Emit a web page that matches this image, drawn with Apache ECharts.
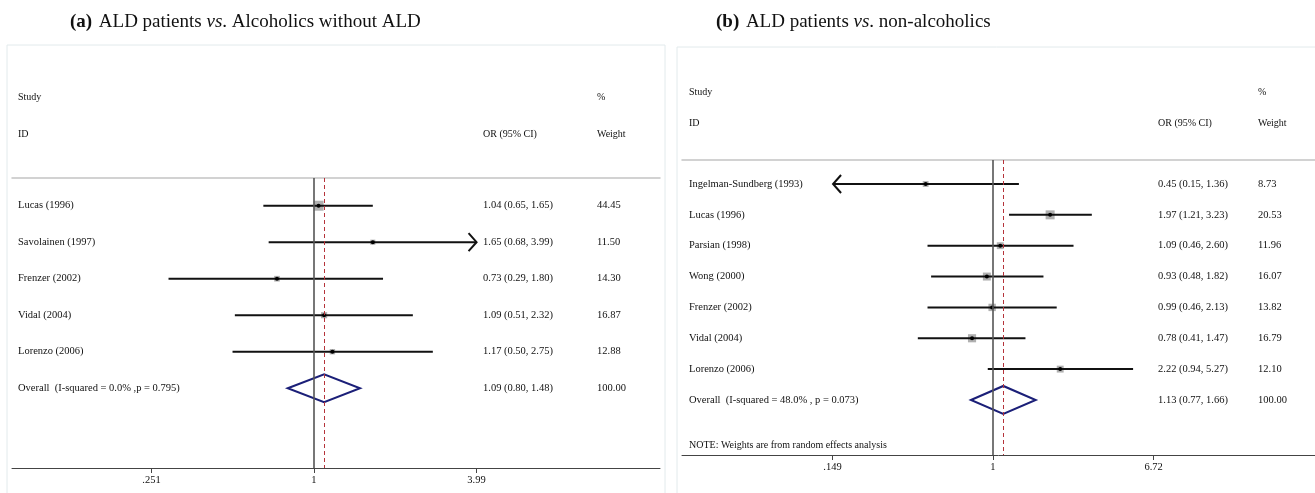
<!DOCTYPE html>
<html><head><meta charset="utf-8">
<script src="https://cdn.jsdelivr.net/npm/echarts@6/dist/echarts.min.js"></script>
<style>html,body{margin:0;padding:0;background:#fff}#c{width:1315px;height:493px}</style>
</head><body><div id="c"></div>
<script>
// ---------- Panel (a): ALD patients vs. Alcoholics without ALD ----------
const studiesA = ['Lucas (1996)', 'Savolainen (1997)', 'Frenzer (2002)', 'Vidal (2004)', 'Lorenzo (2006)'];
const orA = [1.04, 1.65, 0.73, 1.09, 1.17];
const loA = [0.65, 0.68, 0.29, 0.51, 0.50];
const hiA = [1.65, 3.99, 1.80, 2.32, 2.75];
const weightA = [44.45, 11.50, 14.30, 16.87, 12.88];
const arrowA = [0, 1, 0, 0, 0];            // 1 = CI runs off the right, -1 = off the left
const overallLabelA = 'Overall  (I-squared = 0.0% ,p = 0.795)';
const overallA = [1.09, 0.80, 1.48];       // OR, lower, upper
const overallWeightA = 100.00;
const tickValuesA = [0.251, 1, 3.99];
const tickLabelsA = ['.251', '1', '3.99'];

// ---------- Panel (b): ALD patients vs. non-alcoholics ----------
const studiesB = ['Ingelman-Sundberg (1993)', 'Lucas (1996)', 'Parsian (1998)', 'Wong (2000)', 'Frenzer (2002)', 'Vidal (2004)', 'Lorenzo (2006)'];
const orB = [0.45, 1.97, 1.09, 0.93, 0.99, 0.78, 2.22];
const loB = [0.15, 1.21, 0.46, 0.48, 0.46, 0.41, 0.94];
const hiB = [1.36, 3.23, 2.60, 1.82, 2.13, 1.47, 5.27];
const weightB = [8.73, 20.53, 11.96, 16.07, 13.82, 16.79, 12.10];
const arrowB = [-1, 0, 0, 0, 0, 0, 0];
const overallLabelB = 'Overall  (I-squared = 48.0% , p = 0.073)';
const overallB = [1.13, 0.77, 1.66];
const overallWeightB = 100.00;
const tickValuesB = [0.149, 1, 6.72];
const tickLabelsB = ['.149', '1', '6.72'];
const noteB = 'NOTE: Weights are from random effects analysis';

// ---------- helpers ----------
const FONT = '"Liberation Serif", "DejaVu Serif", serif';
const fmt = v => v.toFixed(2);

function buildRows(studies, or, lo, hi, w, arrows, overall, overallW) {
  const rows = studies.map((s, i) => [i, or[i], lo[i], hi[i], w[i], arrows[i], 0]);
  rows.push([studies.length, overall[0], overall[1], overall[2], overallW, 0, 1]);
  return rows;
}

function makeRender(studies, overallLabel, boxMax, maxW, xLabel, xOR, xW) {
  return function (params, api) {
    const i = api.value(0), est = api.value(1), lo = api.value(2), hi = api.value(3);
    const w = api.value(4), ar = api.value(5), kind = api.value(6);
    const pE = api.coord([Math.log(est), i]);
    const pL = api.coord([Math.log(lo), i]);
    const pH = api.coord([Math.log(hi), i]);
    const y = pE[1];
    const txt = (t, x) => ({
      type: 'text',
      style: { text: t, x: x, y: y, fill: '#111', fontSize: 10.5, fontFamily: FONT, align: 'left', verticalAlign: 'middle' }
    });
    const ch = [];
    if (kind === 1) {
      ch.push({
        type: 'polygon',
        shape: { points: [[pL[0], y], [pE[0], y - 14], [pH[0], y], [pE[0], y + 14]] },
        style: { fill: 'none', stroke: '#1b1f78', lineWidth: 2 }
      });
      ch.push(txt(overallLabel, xLabel));
    } else {
      const s = boxMax * Math.sqrt(w / maxW);
      ch.push({ type: 'rect', shape: { x: pE[0] - s / 2, y: y - s / 2, width: s, height: s }, style: { fill: '#b0b0b0' } });
      ch.push({ type: 'line', shape: { x1: pL[0], y1: y, x2: pH[0], y2: y }, style: { stroke: '#111', lineWidth: 2 } });
      ch.push({ type: 'circle', shape: { cx: pE[0], cy: y, r: 2 }, style: { fill: '#000' } });
      if (ar === 1) {
        ch.push({ type: 'polyline', shape: { points: [[pH[0] - 8, y - 9], [pH[0], y], [pH[0] - 8, y + 9]] }, style: { stroke: '#111', lineWidth: 2, fill: 'none' } });
      } else if (ar === -1) {
        ch.push({ type: 'polyline', shape: { points: [[pL[0] + 8, y - 9], [pL[0], y], [pL[0] + 8, y + 9]] }, style: { stroke: '#111', lineWidth: 2, fill: 'none' } });
      }
      ch.push(txt(studies[params.dataIndex], xLabel));
    }
    ch.push(txt(fmt(est) + ' (' + fmt(lo) + ', ' + fmt(hi) + ')', xOR));
    ch.push(txt(fmt(w), xW));
    return { type: 'group', children: ch };
  };
}

function tickFormatter(vals, labels) {
  return function (v) {
    let best = 0, d = Infinity;
    vals.forEach((t, k) => { const dd = Math.abs(Math.log(t) - v); if (dd < d) { d = dd; best = k; } });
    return labels[best];
  };
}

function bottomAxis(grid, min, max, vals, labels) {
  return {
    type: 'value', gridIndex: grid, position: 'bottom', min: min, max: max,
    axisLine: { show: true, onZero: false, lineStyle: { color: '#444', width: 1 } },
    axisTick: { show: true, inside: false, length: 5, customValues: vals.map(Math.log), lineStyle: { color: '#444' } },
    axisLabel: { show: true, margin: 7, customValues: vals.map(Math.log), formatter: tickFormatter(vals, labels),
      color: '#111', fontSize: 10.5, fontFamily: FONT },
    splitLine: { show: false }
  };
}
function topAxis(grid, min, max) {
  return {
    type: 'value', gridIndex: grid, position: 'top', min: min, max: max,
    axisLine: { show: true, onZero: false, lineStyle: { color: '#c4c4c4', width: 1.5 } },
    axisTick: { show: false }, axisLabel: { show: false }, splitLine: { show: false }
  };
}
function yAxisDef(grid, min, max) {
  return { type: 'value', gridIndex: grid, inverse: true, min: min, max: max, show: false, splitLine: { show: false } };
}

// axis ranges (log-OR units, row units)
const xMinA = -2.570, xMaxA = 2.945, yMinA = -0.759, yMaxA = 7.186;
const xMinB = -3.689, xMaxB = 3.820, yMinB = -0.778, yMaxB = 8.784;

const rowsA = buildRows(studiesA, orA, loA, hiA, weightA, arrowA, overallA, overallWeightA);
const rowsB = buildRows(studiesB, orB, loB, hiB, weightB, arrowB, overallB, overallWeightB);

function refLines(overall) {
  return {
    silent: true, symbol: 'none', label: { show: false }, animation: false,
    data: [
      { xAxis: 0, lineStyle: { color: '#555', width: 1.6, type: 'solid' } },
      { xAxis: Math.log(overall[0]), lineStyle: { color: '#b5333a', width: 1, type: [4, 3] } }
    ]
  };
}

const hdr = (t, x, y) => ({ type: 'text', x: x, y: y, style: { text: t, fill: '#111', fontSize: 10, fontFamily: FONT, verticalAlign: 'middle' } });
const titleText = (tag, rest1, rest2, x) => ({
  type: 'text', x: x, y: 22,
  style: {
    text: '{b|' + tag + '}  {n|' + rest1 + '}{i|vs}{n|.' + rest2 + '}',
    verticalAlign: 'middle',
    rich: {
      b: { fontSize: 19, fontWeight: 'bold', fontFamily: FONT, fill: '#111' },
      n: { fontSize: 19, fontFamily: FONT, fill: '#111' },
      i: { fontSize: 19, fontStyle: 'italic', fontFamily: FONT, fill: '#111' }
    }
  }
});

const chart = echarts.init(document.getElementById('c'), null, { renderer: 'canvas' });
chart.setOption({
  backgroundColor: '#ffffff',
  animation: false,
  grid: [
    { left: 12, right: 1315 - 660, top: 178, bottom: 493 - 468 },
    { left: 682, right: 0, top: 160, bottom: 493 - 455 }
  ],
  xAxis: [
    bottomAxis(0, xMinA, xMaxA, tickValuesA, tickLabelsA),
    topAxis(0, xMinA, xMaxA),
    bottomAxis(1, xMinB, xMaxB, tickValuesB, tickLabelsB),
    topAxis(1, xMinB, xMaxB)
  ],
  yAxis: [yAxisDef(0, yMinA, yMaxA), yAxisDef(1, yMinB, yMaxB)],
  series: [
    {
      type: 'custom', xAxisIndex: 0, yAxisIndex: 0, clip: false, data: rowsA,
      renderItem: makeRender(studiesA, overallLabelA, 10, Math.max.apply(null, weightA), 18, 483, 597),
      markLine: refLines(overallA), z: 3
    },
    {
      type: 'custom', xAxisIndex: 2, yAxisIndex: 1, clip: false, data: rowsB,
      renderItem: makeRender(studiesB, overallLabelB, 9, Math.max.apply(null, weightB), 689, 1158, 1258),
      markLine: refLines(overallB), z: 3
    }
  ],
  graphic: [
    { type: 'rect', shape: { x: 7, y: 45, width: 658, height: 460 }, style: { fill: 'none', stroke: '#e2eaec', lineWidth: 1 }, z: -1 },
    { type: 'rect', shape: { x: 677, y: 47, width: 650, height: 460 }, style: { fill: 'none', stroke: '#e2eaec', lineWidth: 1 }, z: -1 },
    titleText('(a)', 'ALD patients ', ' Alcoholics without ALD', 70),
    titleText('(b)', 'ALD patients ', ' non-alcoholics', 716),
    hdr('Study', 18, 97), hdr('ID', 18, 134), hdr('%', 597, 97), hdr('OR (95% CI)', 483, 134), hdr('Weight', 597, 134),
    hdr('Study', 689, 92), hdr('ID', 689, 123), hdr('%', 1258, 92), hdr('OR (95% CI)', 1158, 123), hdr('Weight', 1258, 123),
    hdr(noteB, 689, 445)
  ]
});
</script>
</body></html>
